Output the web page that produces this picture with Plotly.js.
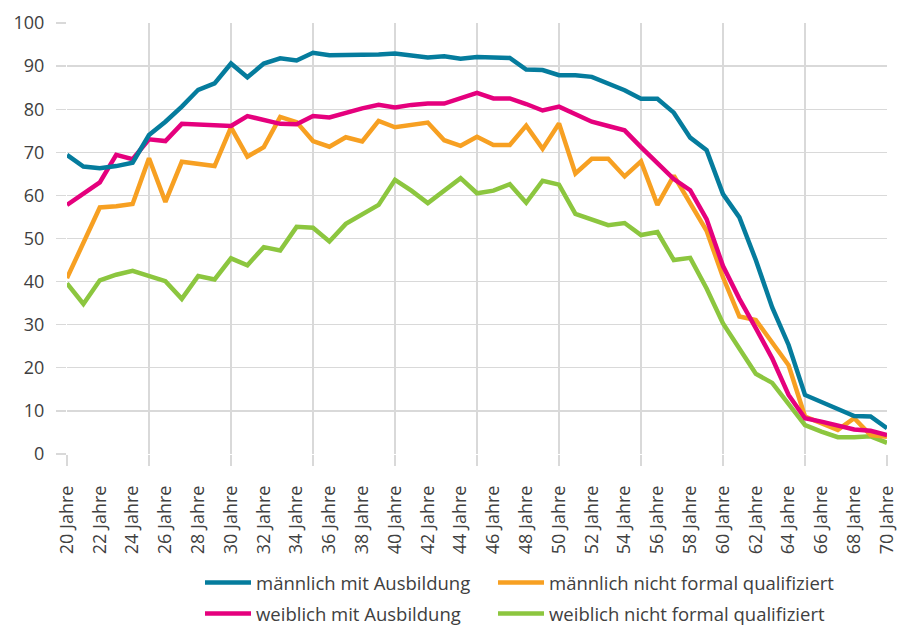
<!DOCTYPE html>
<html>
<head>
<meta charset="utf-8">
<script src="https://cdn.plot.ly/plotly-3.0.1.min.js"></script>
<style>html,body{margin:0;padding:0;background:#fff;}#chart{width:897px;height:626px;}</style>
</head>
<body>
<div id="chart"></div>
<script>
const ages = [20,21,22,23,24,25,26,27,28,29,30,31,32,33,34,35,36,37,38,39,40,41,42,43,44,45,46,47,48,49,50,51,52,53,54,55,56,57,58,59,60,61,62,63,64,65,66,67,68,69,70];

const maleTrained = [69.4,66.7,66.3,66.8,67.6,74.0,77.1,80.6,84.5,86.0,90.6,87.4,90.6,91.8,91.3,93.1,92.5,92.5,92.6,92.7,92.9,92.4,92.0,92.3,91.7,92.1,92.1,91.9,89.2,89.1,87.9,87.9,87.5,86.0,84.4,82.4,82.4,79.2,73.4,70.5,60.3,54.9,45.0,34.0,25.3,13.7,12.1,10.3,8.8,8.7,6.0];

const femaleTrained = [57.8,60.3,63.0,69.4,68.4,73.0,72.6,76.6,76.4,76.2,76.1,78.4,77.5,76.6,76.5,78.4,78.1,79.2,80.2,81.0,80.4,81.0,81.3,81.3,82.6,83.8,82.5,82.5,81.2,79.7,80.6,78.8,77.1,76.1,75.1,71.2,67.5,63.8,61.2,54.5,43.6,36.0,29.2,22.2,13.7,8.3,7.5,6.5,5.7,5.4,4.4];

const maleUnqualified = [40.8,48.7,57.2,57.5,58.0,68.6,58.5,67.8,67.3,66.8,75.8,69.0,71.2,78.2,77.0,72.6,71.3,73.5,72.5,77.3,75.8,76.3,76.9,72.8,71.5,73.6,71.7,71.7,76.2,70.8,76.7,65.1,68.5,68.5,64.4,67.9,57.8,64.6,58.0,51.8,41.0,31.9,31.1,26.0,20.6,8.7,7.1,5.6,8.3,4.4,4.0];

const femaleUnqualified = [39.6,34.8,40.3,41.6,42.5,41.3,40.1,36.0,41.3,40.5,45.4,43.8,48.0,47.2,52.7,52.5,49.3,53.4,55.7,57.8,63.6,61.1,58.2,61.1,64.0,60.5,61.1,62.6,58.3,63.4,62.5,55.7,54.4,53.1,53.6,50.8,51.5,45.0,45.5,38.4,30.3,24.5,18.6,16.5,11.8,6.7,5.2,3.9,3.9,4.1,2.6];

const labelAges = [20,22,24,26,28,30,32,34,36,38,40,42,44,46,48,50,52,54,56,58,60,62,64,66,68,70];
const labelText = labelAges.map(a => a + ' Jahre');
const gridAges = [20,25,30,35,40,45,50,55,60,65,70];
const yTicks = [0,10,20,30,40,50,60,70,80,90,100];

const names = ['männlich mit Ausbildung','männlich nicht formal qualifiziert','weiblich mit Ausbildung','weiblich nicht formal qualifiziert'];
const colors = ['#057c9d','#f7a022','#e5007d','#8cc63f'];

const FONT = '"Open Sans", "Noto Sans", sans-serif';
const TXT = '#404040';
const GRID = '#d9d9d9';

const L = 67, R = 10, T = 23, B = 172, W = 897, H = 626;
const PW = W - L - R, PH = H - T - B;
const px2x = p => (p - L) / PW;
const px2y = p => (H - B - p) / PH;

function tr(y, i, legend) {
  return {x: ages, y: y, name: names[i], type: 'scatter', mode: 'lines', xaxis: 'x2',
    line: {color: colors[i], width: 4.5, shape: 'linear'}, legend: legend, hoverinfo: 'skip'};
}

// carrier for the gridline axis (no visible marks)
const gridCarrier = {x: gridAges, y: gridAges.map(() => null), type: 'scatter', mode: 'lines',
  xaxis: 'x', yaxis: 'y', showlegend: false, hoverinfo: 'skip'};

const data = [
  gridCarrier,
  tr(femaleUnqualified, 3, 'legend4'),
  tr(maleUnqualified, 1, 'legend2'),
  tr(femaleTrained, 2, 'legend3'),
  tr(maleTrained, 0, 'legend')
];

function leg(xp, yp) {
  return {orientation: 'h', x: px2x(xp), xanchor: 'left', y: px2y(yp), yanchor: 'middle',
    itemwidth: 46, font: {size: 18.5, color: TXT, family: FONT},
    bgcolor: 'rgba(0,0,0,0)', borderwidth: 0};
}

const layout = {
  width: W, height: H,
  margin: {l: L, r: R, t: T, b: B, autoexpand: false},
  paper_bgcolor: '#fff', plot_bgcolor: '#fff',
  font: {family: FONT, size: 18, color: TXT},
  showlegend: true,
  xaxis: {
    range: [20, 70], tickmode: 'array', tickvals: gridAges,
    showticklabels: false, showgrid: true, gridcolor: GRID, gridwidth: 1.3,
    ticks: 'outside', ticklen: 11, tickcolor: GRID, tickwidth: 1.3, zeroline: false, showline: false
  },
  xaxis2: {
    overlaying: 'x', side: 'bottom', anchor: 'y',
    range: [20, 70], tickmode: 'array', tickvals: labelAges, ticktext: labelText,
    tickangle: -90, showgrid: false, zeroline: false, showline: false, ticks: '',
    ticklabelstandoff: 27, ticklabeloverflow: 'allow',
    tickfont: {size: 18, color: TXT, family: FONT}
  },
  yaxis: {
    range: [0, 100], tickmode: 'array', tickvals: yTicks,
    showgrid: true, gridcolor: GRID, gridwidth: 1.3, zeroline: false, showline: false,
    ticks: 'outside', ticklen: 10, tickcolor: GRID, tickwidth: 1.3,
    ticklabelstandoff: 8, tickfont: {size: 18, color: TXT, family: FONT}
  },
  legend: leg(200, 583),
  legend2: leg(493, 583),
  legend3: leg(200, 614),
  legend4: leg(493, 614)
};

Plotly.newPlot('chart', data, layout, {displayModeBar: false, staticPlot: true});
</script>
</body>
</html>
